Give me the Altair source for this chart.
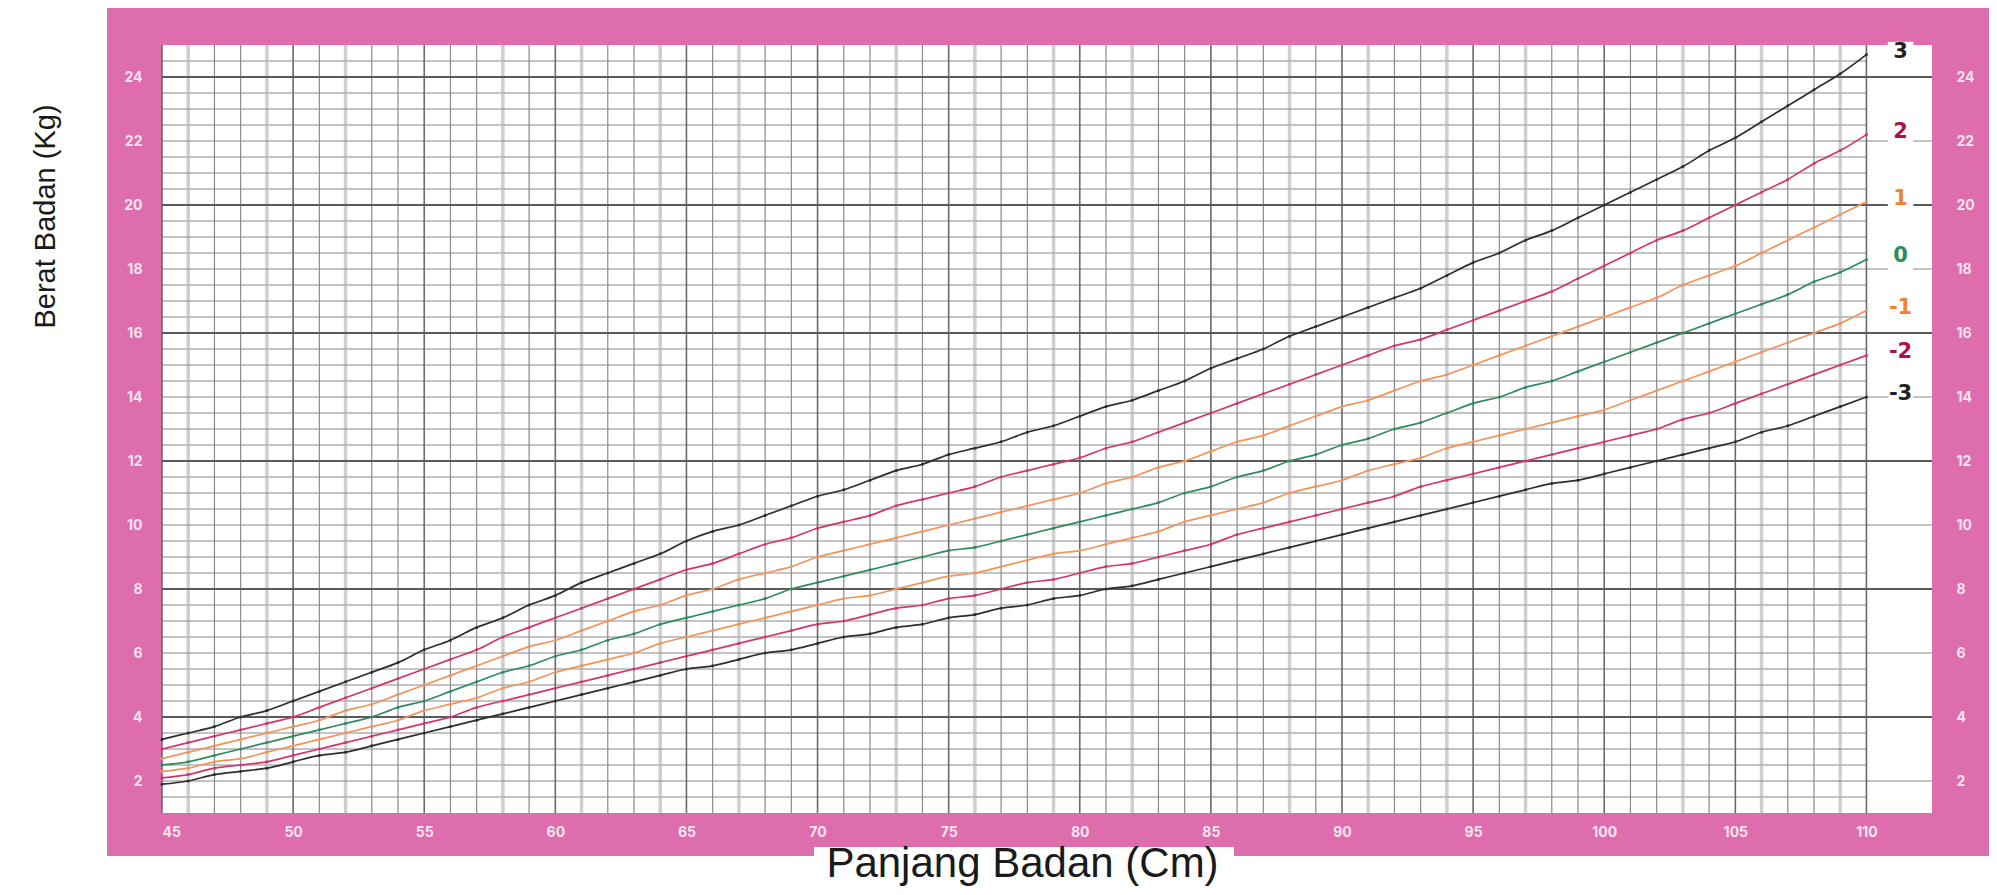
import altair as alt
import pandas as pd

# ---------------- data ----------------
lengths = list(range(45, 111))

sd_m3 = [1.9, 2.0, 2.2, 2.3, 2.4, 2.6, 2.8, 2.9, 3.1, 3.3, 3.5, 3.7, 3.9, 4.1, 4.3, 4.5,
         4.7, 4.9, 5.1, 5.3, 5.5, 5.6, 5.8, 6.0, 6.1, 6.3, 6.5, 6.6, 6.8, 6.9, 7.1, 7.2,
         7.4, 7.5, 7.7, 7.8, 8.0, 8.1, 8.3, 8.5, 8.7, 8.9, 9.1, 9.3, 9.5, 9.7, 9.9, 10.1,
         10.3, 10.5, 10.7, 10.9, 11.1, 11.3, 11.4, 11.6, 11.8, 12.0, 12.2, 12.4, 12.6,
         12.9, 13.1, 13.4, 13.7, 14.0]
sd_m2 = [2.1, 2.2, 2.4, 2.5, 2.6, 2.8, 3.0, 3.2, 3.4, 3.6, 3.8, 4.0, 4.3, 4.5, 4.7, 4.9,
         5.1, 5.3, 5.5, 5.7, 5.9, 6.1, 6.3, 6.5, 6.7, 6.9, 7.0, 7.2, 7.4, 7.5, 7.7, 7.8,
         8.0, 8.2, 8.3, 8.5, 8.7, 8.8, 9.0, 9.2, 9.4, 9.7, 9.9, 10.1, 10.3, 10.5, 10.7,
         10.9, 11.2, 11.4, 11.6, 11.8, 12.0, 12.2, 12.4, 12.6, 12.8, 13.0, 13.3, 13.5,
         13.8, 14.1, 14.4, 14.7, 15.0, 15.3]
sd_m1 = [2.3, 2.4, 2.6, 2.7, 2.9, 3.1, 3.3, 3.5, 3.7, 3.9, 4.2, 4.4, 4.6, 4.9, 5.1, 5.4,
         5.6, 5.8, 6.0, 6.3, 6.5, 6.7, 6.9, 7.1, 7.3, 7.5, 7.7, 7.8, 8.0, 8.2, 8.4, 8.5,
         8.7, 8.9, 9.1, 9.2, 9.4, 9.6, 9.8, 10.1, 10.3, 10.5, 10.7, 11.0, 11.2, 11.4,
         11.7, 11.9, 12.1, 12.4, 12.6, 12.8, 13.0, 13.2, 13.4, 13.6, 13.9, 14.2, 14.5,
         14.8, 15.1, 15.4, 15.7, 16.0, 16.3, 16.7]
sd_0 = [2.5, 2.6, 2.8, 3.0, 3.2, 3.4, 3.6, 3.8, 4.0, 4.3, 4.5, 4.8, 5.1, 5.4, 5.6, 5.9,
        6.1, 6.4, 6.6, 6.9, 7.1, 7.3, 7.5, 7.7, 8.0, 8.2, 8.4, 8.6, 8.8, 9.0, 9.2, 9.3,
        9.5, 9.7, 9.9, 10.1, 10.3, 10.5, 10.7, 11.0, 11.2, 11.5, 11.7, 12.0, 12.2, 12.5,
        12.7, 13.0, 13.2, 13.5, 13.8, 14.0, 14.3, 14.5, 14.8, 15.1, 15.4, 15.7, 16.0,
        16.3, 16.6, 16.9, 17.2, 17.6, 17.9, 18.3]
sd_p1 = [2.7, 2.9, 3.1, 3.3, 3.5, 3.7, 3.9, 4.2, 4.4, 4.7, 5.0, 5.3, 5.6, 5.9, 6.2, 6.4,
         6.7, 7.0, 7.3, 7.5, 7.8, 8.0, 8.3, 8.5, 8.7, 9.0, 9.2, 9.4, 9.6, 9.8, 10.0, 10.2,
         10.4, 10.6, 10.8, 11.0, 11.3, 11.5, 11.8, 12.0, 12.3, 12.6, 12.8, 13.1, 13.4,
         13.7, 13.9, 14.2, 14.5, 14.7, 15.0, 15.3, 15.6, 15.9, 16.2, 16.5, 16.8, 17.1,
         17.5, 17.8, 18.1, 18.5, 18.9, 19.3, 19.7, 20.1]
sd_p2 = [3.0, 3.2, 3.4, 3.6, 3.8, 4.0, 4.3, 4.6, 4.9, 5.2, 5.5, 5.8, 6.1, 6.5, 6.8, 7.1,
         7.4, 7.7, 8.0, 8.3, 8.6, 8.8, 9.1, 9.4, 9.6, 9.9, 10.1, 10.3, 10.6, 10.8, 11.0,
         11.2, 11.5, 11.7, 11.9, 12.1, 12.4, 12.6, 12.9, 13.2, 13.5, 13.8, 14.1, 14.4,
         14.7, 15.0, 15.3, 15.6, 15.8, 16.1, 16.4, 16.7, 17.0, 17.3, 17.7, 18.1, 18.5,
         18.9, 19.2, 19.6, 20.0, 20.4, 20.8, 21.3, 21.7, 22.2]
sd_p3 = [3.3, 3.5, 3.7, 4.0, 4.2, 4.5, 4.8, 5.1, 5.4, 5.7, 6.1, 6.4, 6.8, 7.1, 7.5, 7.8,
         8.2, 8.5, 8.8, 9.1, 9.5, 9.8, 10.0, 10.3, 10.6, 10.9, 11.1, 11.4, 11.7, 11.9,
         12.2, 12.4, 12.6, 12.9, 13.1, 13.4, 13.7, 13.9, 14.2, 14.5, 14.9, 15.2, 15.5,
         15.9, 16.2, 16.5, 16.8, 17.1, 17.4, 17.8, 18.2, 18.5, 18.9, 19.2, 19.6, 20.0,
         20.4, 20.8, 21.2, 21.7, 22.1, 22.6, 23.1, 23.6, 24.1, 24.7]

series_names = ["-3", "-2", "-1", "0", "1", "2", "3"]
series_values = [sd_m3, sd_m2, sd_m1, sd_0, sd_p1, sd_p2, sd_p3]
line_colors = ["#2e2e2e", "#d3346f", "#f2935c", "#2f8b5f", "#f2935c", "#d3346f", "#2e2e2e"]
label_colors = ["#222222", "#a8124e", "#ec8436", "#2e8b57", "#ec8436", "#a8124e", "#222222"]

x_ticks = list(range(45, 111, 5))
y_ticks = list(range(2, 25, 2))

x_title = "Panjang  Badan (Cm)"
y_title = "Berat Badan (Kg)"

# ---------------- tables ----------------
rows = []
for name, vals in zip(series_names, series_values):
    for L, v in zip(lengths, vals):
        rows.append({"len": L, "kg": v, "sd": name})
df = pd.DataFrame(rows)

lab = pd.DataFrame({"sd": series_names,
                    "kg": [v[-1] for v in series_values],
                    "len": [111.3] * len(series_names)})

W, H = 1770, 768
X0, X1 = 45, 112.5
xs = alt.Scale(domain=[X0, X1], nice=False, zero=False)
ys = alt.Scale(domain=[1, 25], nice=False, zero=False)
cs = alt.Scale(domain=series_names, range=line_colors)
ls = alt.Scale(domain=series_names, range=label_colors)

PINK = "#de6dad"
one = pd.DataFrame({"a": [0]})

frame = alt.Chart(one).mark_rect(color=PINK).encode(
    x=alt.value(-55), x2=alt.value(1827), y=alt.value(-37), y2=alt.value(811))
plotbg = alt.Chart(one).mark_rect(color="white").encode(
    x=alt.value(0), x2=alt.value(W), y=alt.value(0), y2=alt.value(H))
titlebg = alt.Chart(one).mark_rect(color="white").encode(
    x=alt.value(652), x2=alt.value(1072), y=alt.value(802), y2=alt.value(812))

# grid (decoration)
half = pd.DataFrame({"y": [k + 0.5 for k in range(1, 25)], "x0": 45, "x1": 110})
odd = pd.DataFrame({"y": list(range(3, 25, 2)), "x0": 45, "x1": 110})
even = pd.DataFrame({"y": [2, 6, 10, 14, 18, 22], "x0": 45, "x1": X1})
major = pd.DataFrame({"y": [4, 8, 12, 16, 20, 24], "x0": 45, "x1": X1})

vall = list(range(45, 111))
v_light = [v for v in vall if (v - 46) % 3 == 0 and v % 5 != 0]
v_mid = [v for v in vall if v not in v_light and v % 5 != 0]
v_dark = [v for v in vall if v % 5 == 0]


def hrule(d, color, w):
    return alt.Chart(d).mark_rule(color=color, strokeWidth=w).encode(
        y=alt.Y("y:Q", scale=ys, axis=None),
        x=alt.X("x0:Q", scale=xs, axis=None), x2="x1:Q")


def vrule(vals, color, w):
    return alt.Chart(pd.DataFrame({"x": vals})).mark_rule(color=color, strokeWidth=w).encode(
        x=alt.X("x:Q", scale=xs, axis=None))


grid = [
    vrule(v_light, "#cfcfcf", 3.5),
    hrule(half, "#b0b0b0", 1.4),
    hrule(odd, "#888888", 1.1),
    hrule(even, "#888888", 1.1),
    vrule(v_mid, "#8a8a8a", 1.2),
    vrule(v_dark, "#6a6a6a", 1.6),
    hrule(major, "#5a5a5a", 2.2),
]

lab_font = "Inter"

curves = alt.Chart(df).mark_line(
    strokeWidth=1.7, interpolate="monotone",
    point=alt.OverlayMarkDef(filled=True, size=9)
).encode(
    x=alt.X("len:Q", scale=xs,
            axis=alt.Axis(values=x_ticks, grid=False, ticks=False, domain=False,
                          labelColor="#fbe4f0", labelFontSize=14, labelFontWeight="bold",
                          labelFont=lab_font, labelPadding=12, zindex=2,
                          title=x_title, titleFont="Liberation Sans", titleFontSize=42,
                          titleFontWeight="normal", titleColor="#1a1a1a",
                          titleX=860, titleY=63, titleBaseline="alphabetic",
                          titleAlign="center")),
    y=alt.Y("kg:Q", scale=ys,
            axis=alt.Axis(values=y_ticks, grid=False, ticks=False, domain=False,
                          labelColor="#fbe4f0", labelFontSize=14, labelFontWeight="bold",
                          labelFont=lab_font, labelPadding=20, zindex=2,
                          title=y_title, titleFont="Liberation Sans", titleFontSize=29,
                          titleFontWeight="normal", titleColor="#1a1a1a",
                          titleX=-117, titleY=171, titleAngle=-90,
                          titleBaseline="middle", titleAlign="center")),
    color=alt.Color("sd:N", scale=cs, legend=None),
    detail="sd:N",
)

right_axis = alt.Chart(df).mark_point(opacity=0).encode(
    x=alt.X("len:Q", scale=xs, axis=None),
    y=alt.Y("kg:Q", scale=ys,
            axis=alt.Axis(orient="right", values=y_ticks, grid=False, ticks=False,
                          domain=False, labelColor="#fbe4f0", labelFontSize=14,
                          labelFontWeight="bold", labelFont=lab_font, labelPadding=24,
                          zindex=2, title=None)),
)

halo = alt.Chart(lab).mark_square(color="white", opacity=1, size=650).encode(
    x=alt.X("len:Q", scale=xs, axis=None),
    y=alt.Y("kg:Q", scale=ys, axis=None),
)
labels = alt.Chart(lab).mark_text(fontSize=21, fontWeight="bold", font="DejaVu Sans",
                                  align="center", baseline="middle", dy=-3).encode(
    x=alt.X("len:Q", scale=xs, axis=None),
    y=alt.Y("kg:Q", scale=ys, axis=None),
    text="sd:N",
    color=alt.Color("sd:N", scale=ls, legend=None),
)

chart = alt.layer(
    frame, plotbg, titlebg, *grid, curves, halo, labels, right_axis
).resolve_axis(x="independent", y="independent").resolve_scale(color="independent").properties(
    width=W, height=H,
    autosize=alt.AutoSizeParams(type="none"),
    padding={"left": 154, "top": 37, "right": 57, "bottom": 74},
).configure_view(stroke=None).configure(background="white")

chart.save("out.html", embed_options={"renderer": "svg", "actions": False})
